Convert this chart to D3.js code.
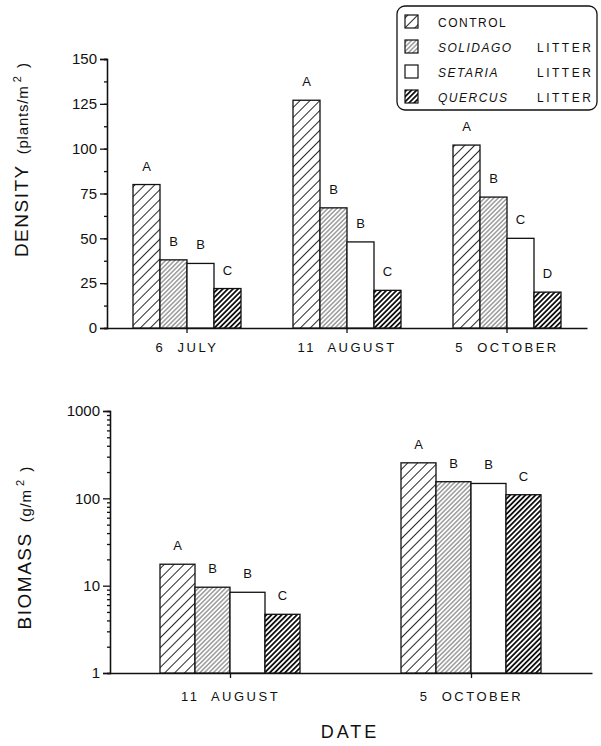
<!DOCTYPE html>
<html>
<head>
<meta charset="utf-8">
<script src="https://cdn.jsdelivr.net/npm/d3@7"></script>
<style>
  body { margin: 0; background: #fff; }
  svg text { font-family: "Liberation Sans", Arial, sans-serif; fill: #111; white-space: pre; }
  .axis path, .axis line { stroke: #111; stroke-width: 1.3; }
</style>
</head>
<body>
<div id="chart"></div>
<script>
// ---- data ----
var treatments = ["CONTROL", "SOLIDAGO", "SETARIA", "QUERCUS"];
var legendNames = ["CONTROL", "SOLIDAGO", "SETARIA", "QUERCUS"];
var legendSuffix = ["", "LITTER", "LITTER", "LITTER"];

var densityDates = ["6  JULY", "11  AUGUST", "5  OCTOBER"];
var densityControl = [80, 127, 102];
var densitySolidago = [38, 67, 73];
var densitySetaria = [36, 48, 50];
var densityQuercus = [22, 21, 20];
var densityLetters = [["A", "B", "B", "C"], ["A", "B", "B", "C"], ["A", "B", "C", "D"]];
var densityTicks = [0, 25, 50, 75, 100, 125, 150];

var biomassDates = ["11  AUGUST", "5  OCTOBER"];
var biomassControl = [17.6, 255];
var biomassSolidago = [9.6, 155];
var biomassSetaria = [8.4, 148];
var biomassQuercus = [4.7, 110];
var biomassLetters = [["A", "B", "B", "C"], ["A", "B", "B", "C"]];
var biomassTicks = [1, 10, 100, 1000];

var width = 601, height = 746;

var svg = d3.select("#chart").append("svg")
    .attr("width", width)
    .attr("height", height);

// hatch patterns
var defs = svg.append("defs");
function hatch(id, spacing, sw, color) {
    var p = defs.append("pattern")
        .attr("id", id)
        .attr("patternUnits", "userSpaceOnUse")
        .attr("width", spacing)
        .attr("height", spacing)
        .attr("patternTransform", "rotate(45)");
    p.append("rect").attr("width", spacing).attr("height", spacing).attr("fill", "#fff");
    p.append("line")
        .attr("x1", spacing / 2).attr("x2", spacing / 2)
        .attr("y1", 0).attr("y2", spacing)
        .attr("stroke", color)
        .attr("stroke-width", sw);
}
hatch("hControl", 7, 0.9, "#111");
hatch("hSolidago", 3.2, 0.8, "#444");
hatch("hQuercus", 3.6, 1.8, "#111");

var fills = {
    CONTROL: "url(#hControl)",
    SOLIDAGO: "url(#hSolidago)",
    SETARIA: "#fff",
    QUERCUS: "url(#hQuercus)"
};

function rows(dates, c, so, se, q, letters) {
    return dates.map(function(d, i) {
        return {
            date: d,
            bars: [
                {key: "CONTROL", value: c[i], letter: letters[i][0]},
                {key: "SOLIDAGO", value: so[i], letter: letters[i][1]},
                {key: "SETARIA", value: se[i], letter: letters[i][2]},
                {key: "QUERCUS", value: q[i], letter: letters[i][3]}
            ]
        };
    });
}

function drawBars(g, data, x0, x1, y) {
    var grp = g.selectAll(".grp")
        .data(data)
      .enter().append("g")
        .attr("class", "grp")
        .attr("transform", function(d) { return "translate(" + x0(d.date) + ",0)"; });

    grp.selectAll("rect")
        .data(function(d) { return d.bars; })
      .enter().append("rect")
        .attr("x", function(d) { return x1(d.key); })
        .attr("y", function(d) { return y(d.value); })
        .attr("width", x1.bandwidth())
        .attr("height", function(d) { return y.range()[0] - y(d.value); })
        .attr("fill", function(d) { return fills[d.key]; })
        .attr("stroke", "#111")
        .attr("stroke-width", 1.3);

    grp.selectAll(".lbl")
        .data(function(d) { return d.bars; })
      .enter().append("text")
        .attr("class", "lbl")
        .attr("x", function(d) { return x1(d.key) + x1.bandwidth() / 2; })
        .attr("y", function(d) { return y(d.value) - 14; })
        .attr("text-anchor", "middle")
        .style("font-size", "13px")
        .text(function(d) { return d.letter; });
}

function yTitle(g, x, y, word, unit) {
    var t = g.append("text")
        .attr("transform", "translate(" + x + "," + y + ") rotate(-90)")
        .attr("text-anchor", "middle");
    t.append("tspan").style("font-size", "19px").style("letter-spacing", "1.5px").text(word);
    t.append("tspan").style("font-size", "15px").style("letter-spacing", "0.8px").text("  (" + unit);
    t.append("tspan").style("font-size", "11px").attr("dy", -7).text(" 2");
    t.append("tspan").style("font-size", "15px").attr("dy", 7).text("  )");
}

// ---- top chart: density ----
var topX0 = d3.scaleBand().domain(densityDates).range([107, 587]);
var topX1 = d3.scaleBand().domain(treatments).range([26, 134]);
var topY = d3.scaleLinear().domain([0, 150]).range([328, 59]);

var topG = svg.append("g");

topG.append("g")
    .attr("class", "axis")
    .attr("transform", "translate(107,0)")
    .call(d3.axisLeft(topY).tickValues(d3.range(0, 151, 12.5)).tickSize(3).tickFormat(""));

topG.append("g")
    .attr("class", "axis")
    .attr("transform", "translate(107,0)")
    .call(d3.axisLeft(topY).tickValues(densityTicks).tickSize(7).tickPadding(3))
    .call(function(g) {
        g.selectAll("text").style("font-size", "15px");
    });

topG.append("g")
    .attr("class", "axis")
    .attr("transform", "translate(0,328)")
    .call(d3.axisBottom(topX0).tickSize(5).tickPadding(10).tickSizeOuter(0))
    .call(function(g) {
        g.selectAll("text").style("font-size", "13px").style("letter-spacing", "2.5px");
    });

drawBars(topG, rows(densityDates, densityControl, densitySolidago, densitySetaria, densityQuercus, densityLetters),
    topX0, topX1, topY);

yTitle(topG, 28, 160, "DENSITY", "plants/m");

// ---- bottom chart: biomass ----
var botX0 = d3.scaleBand().domain(biomassDates).range([110, 592]);
var botX1 = d3.scaleBand().domain(treatments).range([50, 190]);
var botY = d3.scaleLog().domain([1, 1000]).range([673, 411]);

var botG = svg.append("g");

var minor = [];
[1, 10, 100].forEach(function(dec) {
    for (var k = 2; k <= 9; k++) minor.push(dec * k);
});

botG.append("g")
    .attr("class", "axis")
    .attr("transform", "translate(110,0)")
    .call(d3.axisLeft(botY).tickValues(minor).tickSize(3).tickFormat(""));

botG.append("g")
    .attr("class", "axis")
    .attr("transform", "translate(110,0)")
    .call(d3.axisLeft(botY).tickValues(biomassTicks).tickSize(7).tickPadding(3).tickFormat(d3.format("d")))
    .call(function(g) {
        g.selectAll("text").style("font-size", "15px");
    });

botG.append("g")
    .attr("class", "axis")
    .attr("transform", "translate(0,673)")
    .call(d3.axisBottom(botX0).tickSize(5).tickPadding(14).tickSizeOuter(0))
    .call(function(g) {
        g.selectAll("text").style("font-size", "13px").style("letter-spacing", "2.5px");
    });

drawBars(botG, rows(biomassDates, biomassControl, biomassSolidago, biomassSetaria, biomassQuercus, biomassLetters),
    botX0, botX1, botY);

yTitle(botG, 31, 548, "BIOMASS", "g/m");

svg.append("text")
    .attr("x", 350)
    .attr("y", 738)
    .attr("text-anchor", "middle")
    .style("font-size", "18px")
    .style("letter-spacing", "3px")
    .text("DATE");

// ---- legend ----
var legend = svg.append("g");
legend.append("rect")
    .attr("x", 397).attr("y", 6)
    .attr("width", 200).attr("height", 104)
    .attr("rx", 8)
    .attr("fill", "#fff")
    .attr("stroke", "#111")
    .attr("stroke-width", 1.3);

var li = legend.selectAll(".li")
    .data(treatments)
  .enter().append("g")
    .attr("class", "li")
    .attr("transform", function(d, i) { return "translate(0," + (22 + i * 25) + ")"; });

li.append("rect")
    .attr("x", 405).attr("y", -7)
    .attr("width", 13).attr("height", 13)
    .attr("fill", function(d) { return fills[d]; })
    .attr("stroke", "#111")
    .attr("stroke-width", 1.2);

li.append("text")
    .attr("x", 438).attr("y", 5)
    .style("font-size", "12px")
    .style("letter-spacing", "1.5px")
    .style("font-style", function(d, i) { return i === 0 ? "normal" : "italic"; })
    .text(function(d, i) { return legendNames[i]; });

li.append("text")
    .attr("x", 537).attr("y", 5)
    .style("font-size", "12px")
    .style("letter-spacing", "2.5px")
    .text(function(d, i) { return legendSuffix[i]; });
</script>
</body>
</html>
